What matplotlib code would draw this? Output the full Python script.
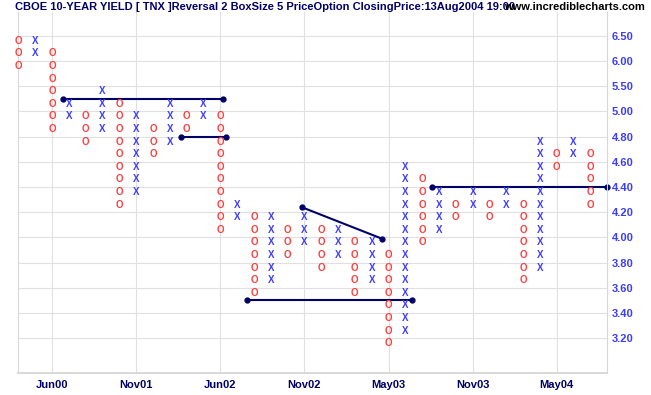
import numpy as np
import matplotlib
matplotlib.use('Agg')
import matplotlib.pyplot as plt
import matplotlib.transforms as mtransforms

plt.rcParams['font.family'] = ['Liberation Sans', 'DejaVu Sans']

# box ladder: 0.10 boxes up to 5.00, 0.25 boxes above
BOX_LEVELS = [3.2, 3.3, 3.4, 3.5, 3.6, 3.7, 3.8, 3.9, 4.0, 4.1, 4.2, 4.3, 4.4,
              4.5, 4.6, 4.7, 4.8, 4.9, 5.0, 5.25, 5.5, 5.75, 6.0, 6.25, 6.5]

# point & figure columns, left to right
COL_TYPES = "OXOXOXOXOXOXOXOXOXOXOXOXOXOXOXOXOXO"
COL_TOP = [6.50, 6.50, 6.25, 5.25, 5.00, 5.50, 5.25, 5.00, 4.90, 5.25,
           5.00, 5.25, 5.00, 4.30, 4.20, 4.20, 4.10, 4.20, 4.10, 4.10,
           4.00, 4.00, 3.90, 4.60, 4.50, 4.40, 4.30, 4.40, 4.30, 4.40,
           4.30, 4.80, 4.70, 4.80, 4.70]
COL_BOTTOM = [6.00, 6.25, 4.90, 5.00, 4.80, 4.90, 4.30, 4.40, 4.70, 4.80,
              4.90, 5.00, 4.10, 4.20, 3.60, 3.70, 3.90, 4.00, 3.80, 3.90,
              3.60, 3.70, 3.20, 3.30, 4.00, 4.10, 4.20, 4.30, 4.20, 4.30,
              3.70, 3.80, 4.60, 4.70, 4.30]

DATE_COLS = [2, 7, 12, 17, 22, 27, 32]
DATE_LABELS = ['Jun00', 'Nov01', 'Jun02', 'Nov02', 'May03', 'Nov03', 'May04']

Y_TICKS = [3.2, 3.4, 3.6, 3.8, 4.0, 4.2, 4.4, 4.6, 4.8, 5.0, 5.5, 6.0, 6.5]

# trend lines (column, price)
TREND_X = [(2.63, 12.16), (9.69, 12.36), (16.84, 21.61), (13.58, 23.39), (24.56, 35.0)]
TREND_Y = [(5.25, 5.25), (4.80, 4.80), (4.24, 3.99), (3.50, 3.50), (4.40, 4.40)]

TITLE = 'CBOE 10-YEAR YIELD [ TNX ]Reversal 2 BoxSize 5 PriceOption ClosingPrice:13Aug2004 19:00'

RED = '#ff3c3c'
BLUE = '#3c3cff'
NAVY = '#000066'
GRID = '#e0e0e0'


def fwd(v):
  v = np.asarray(v, dtype=float)
  return np.where(v <= 5.0, (v - 3.2) / 0.1, 18 + (v - 5.0) / 0.25)


def inv(r):
  r = np.asarray(r, dtype=float)
  return np.where(r <= 18, 3.2 + r * 0.1, 5.0 + (r - 18) * 0.25)


W, H = 651, 395
fig = plt.figure(figsize=(W / 100, H / 100), dpi=100)
ax = fig.add_axes([18.3 / W, 1 - 372.7 / H, (607.3 - 18.3) / W, (372.7 - 12) / H])
ax.set_yscale('function', functions=(fwd, inv))
ax.set_xlim(0, 35)
ax.set_ylim(2.927, 6.97)

ax.set_yticks(Y_TICKS)
ax.set_yticklabels([f'{v:.2f}' for v in Y_TICKS])
ax.yaxis.tick_right()
ax.set_xticks(DATE_COLS)
ax.set_xticklabels(DATE_LABELS)
ax.minorticks_off()
ax.tick_params(axis='y', length=0, pad=3, labelsize=8, labelcolor=BLUE)
ax.tick_params(axis='x', length=0, pad=5, labelsize=8, labelcolor=NAVY)
for lab in ax.get_xticklabels() + ax.get_yticklabels():
  lab.set_fontweight('bold')

ax.grid(True, color=GRID, lw=0.8)
ax.set_axisbelow(True)
ax.spines['top'].set_visible(False)
for side in ['left', 'right']:
  ax.spines[side].set_color('#d8d8d8')
  ax.spines[side].set_linewidth(0.8)
ax.spines['bottom'].set_color('#d8d8d8')
ax.spines['bottom'].set_linewidth(1.4)

# marks sit a little below their box level
mark_tr = mtransforms.offset_copy(ax.transData, fig=fig, x=0, y=-5, units='dots')
for col, (kind, top, bot) in enumerate(zip(COL_TYPES, COL_TOP, COL_BOTTOM)):
  for level in BOX_LEVELS:
    if bot - 1e-9 <= level <= top + 1e-9:
      ax.text(col, level, kind, transform=mark_tr, ha='center', va='center',
              fontsize=7, fontweight='bold', color=RED if kind == 'O' else BLUE)

for xs, ys in zip(TREND_X, TREND_Y):
  ax.plot(xs, ys, color=NAVY, lw=1.5, marker='o', ms=3.5, clip_on=False)

fig.text(15 / W, 1 - 7.5 / H, TITLE, ha='left', va='center', fontsize=8,
         fontweight='bold', color=NAVY)
fig.text(645 / W, 1 - 7.5 / H, 'www.incrediblecharts.com', ha='right', va='center',
         fontsize=8, fontweight='bold', color='black')

fig.savefig('out.png', dpi=100, facecolor='white')
